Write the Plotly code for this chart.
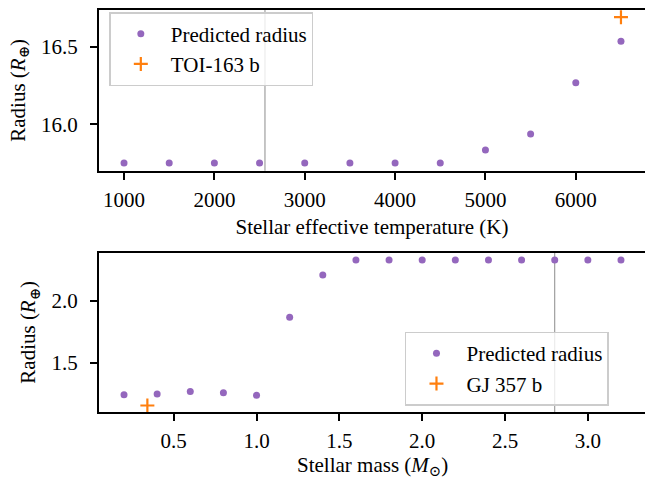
import plotly.graph_objects as go
from plotly.subplots import make_subplots

# ---- data ----
teff = [1000, 1500, 2000, 2500, 3000, 3500, 4000, 4500, 5000, 5500, 6000, 6500]
radius_teff = [15.751, 15.751, 15.751, 15.751, 15.751, 15.751, 15.751, 15.751,
               15.834, 15.937, 16.268, 16.535]
toi_teff = [6500]
toi_radius = [16.69]
teff_vline = 2560

mass = [0.2, 0.4, 0.6, 0.8, 1.0, 1.2, 1.4, 1.6, 1.8, 2.0, 2.2, 2.4, 2.6, 2.8, 3.0, 3.2]
radius_mass = [1.247, 1.252, 1.273, 1.263, 1.242, 1.867, 2.205, 2.325, 2.325,
               2.325, 2.325, 2.325, 2.325, 2.325, 2.325, 2.325]
gj_mass = [0.341]
gj_radius = [1.161]
mass_vline = 2.8

top_xticks = [1000, 2000, 3000, 4000, 5000, 6000]
top_yticks = [16.0, 16.5]
bot_xticks = [0.5, 1.0, 1.5, 2.0, 2.5, 3.0]
bot_yticks = [1.5, 2.0]

PURPLE = "#9467bd"
ORANGE = "#ff7f0e"
FONT = "Liberation Serif, Times New Roman, DejaVu Serif, serif"
FS = 21

fig = make_subplots(rows=2, cols=1)

fig.add_trace(go.Scatter(x=teff, y=radius_teff, mode="markers", name="Predicted radius",
                         marker=dict(color=PURPLE, size=7), legend="legend"), row=1, col=1)
fig.add_trace(go.Scatter(x=toi_teff, y=toi_radius, mode="markers", name="TOI-163 b",
                         marker=dict(color=ORANGE, size=10, symbol="cross-thin",
                                     line=dict(color=ORANGE, width=2.2)), legend="legend"), row=1, col=1)
fig.add_trace(go.Scatter(x=mass, y=radius_mass, mode="markers", name="Predicted radius",
                         marker=dict(color=PURPLE, size=7), legend="legend2"), row=2, col=1)
fig.add_trace(go.Scatter(x=gj_mass, y=gj_radius, mode="markers", name="GJ 357 b",
                         marker=dict(color=ORANGE, size=10, symbol="cross-thin",
                                     line=dict(color=ORANGE, width=2.2)), legend="legend2"), row=2, col=1)

fig.add_shape(type="line", xref="x", yref="y domain", x0=teff_vline, x1=teff_vline, y0=0, y1=1,
              line=dict(color="rgba(128,128,128,0.9)", width=1), layer="below")
fig.add_shape(type="line", xref="x2", yref="y2 domain", x0=mass_vline, x1=mass_vline, y0=0, y1=1,
              line=dict(color="rgba(128,128,128,0.9)", width=1), layer="below")

axis_common = dict(showline=True, linecolor="black", linewidth=2, ticks="outside",
                   ticklen=7, tickwidth=1.6, tickcolor="black", showgrid=False,
                   zeroline=False, automargin=False,
                   tickfont=dict(family=FONT, size=FS, color="black"))

fig.update_xaxes(**axis_common, mirror=True, ticklabelstandoff=2)
fig.update_yaxes(**axis_common, mirror=False, ticklabelstandoff=8)

title_font = dict(family=FONT, size=FS, color="black")

fig.update_layout(
    xaxis=dict(domain=[0, 1], range=[723, 6766], tickvals=top_xticks,
               title=dict(text="Stellar effective temperature (K)", standoff=8, font=title_font)),
    yaxis=dict(domain=[0.6002, 1], range=[15.701, 16.736], tickvals=top_yticks, tickformat=".1f",
               title=dict(text="Radius (<i>R</i><sub>⊕</sub>)", standoff=10, font=title_font)),
    xaxis2=dict(domain=[0, 1], range=[0.049, 3.345], tickvals=bot_xticks, tickformat=".1f"),
    yaxis2=dict(domain=[0, 0.3963], range=[1.109, 2.383], tickvals=bot_yticks, tickformat=".1f",
                title=dict(text="Radius (<i>R</i><sub>⊕</sub>)", standoff=10, font=title_font)),
    legend=dict(x=0.0189, y=0.995, xanchor="left", yanchor="top",
                bgcolor="rgba(255,255,255,0.8)", bordercolor="#cccccc", borderwidth=1.5,
                font=title_font, itemwidth=50, tracegroupgap=0),
    legend2=dict(x=0.5604, y=0.200, xanchor="left", yanchor="top",
                 bgcolor="rgba(255,255,255,0.8)", bordercolor="#cccccc", borderwidth=1.5,
                 font=title_font, itemwidth=50, tracegroupgap=0),
    width=645, height=477,
    margin=dict(l=99, r=0, t=10, b=65, autoexpand=False),
    paper_bgcolor="white", plot_bgcolor="white",
    font=title_font,
    showlegend=True,
)

# bottom x-axis title placed as annotation so it can sit as low as in the reference
fig.add_annotation(text="Stellar mass (<i>M</i><sub>⊙</sub>)", xref="x2 domain", yref="y2 domain",
                   x=0.5, y=-0.337, xanchor="center", yanchor="middle", showarrow=False,
                   font=title_font)

fig.write_html("out.html", config={"displayModeBar": False},
               post_script="document.body.style.margin='0';document.body.style.overflow='hidden';")
